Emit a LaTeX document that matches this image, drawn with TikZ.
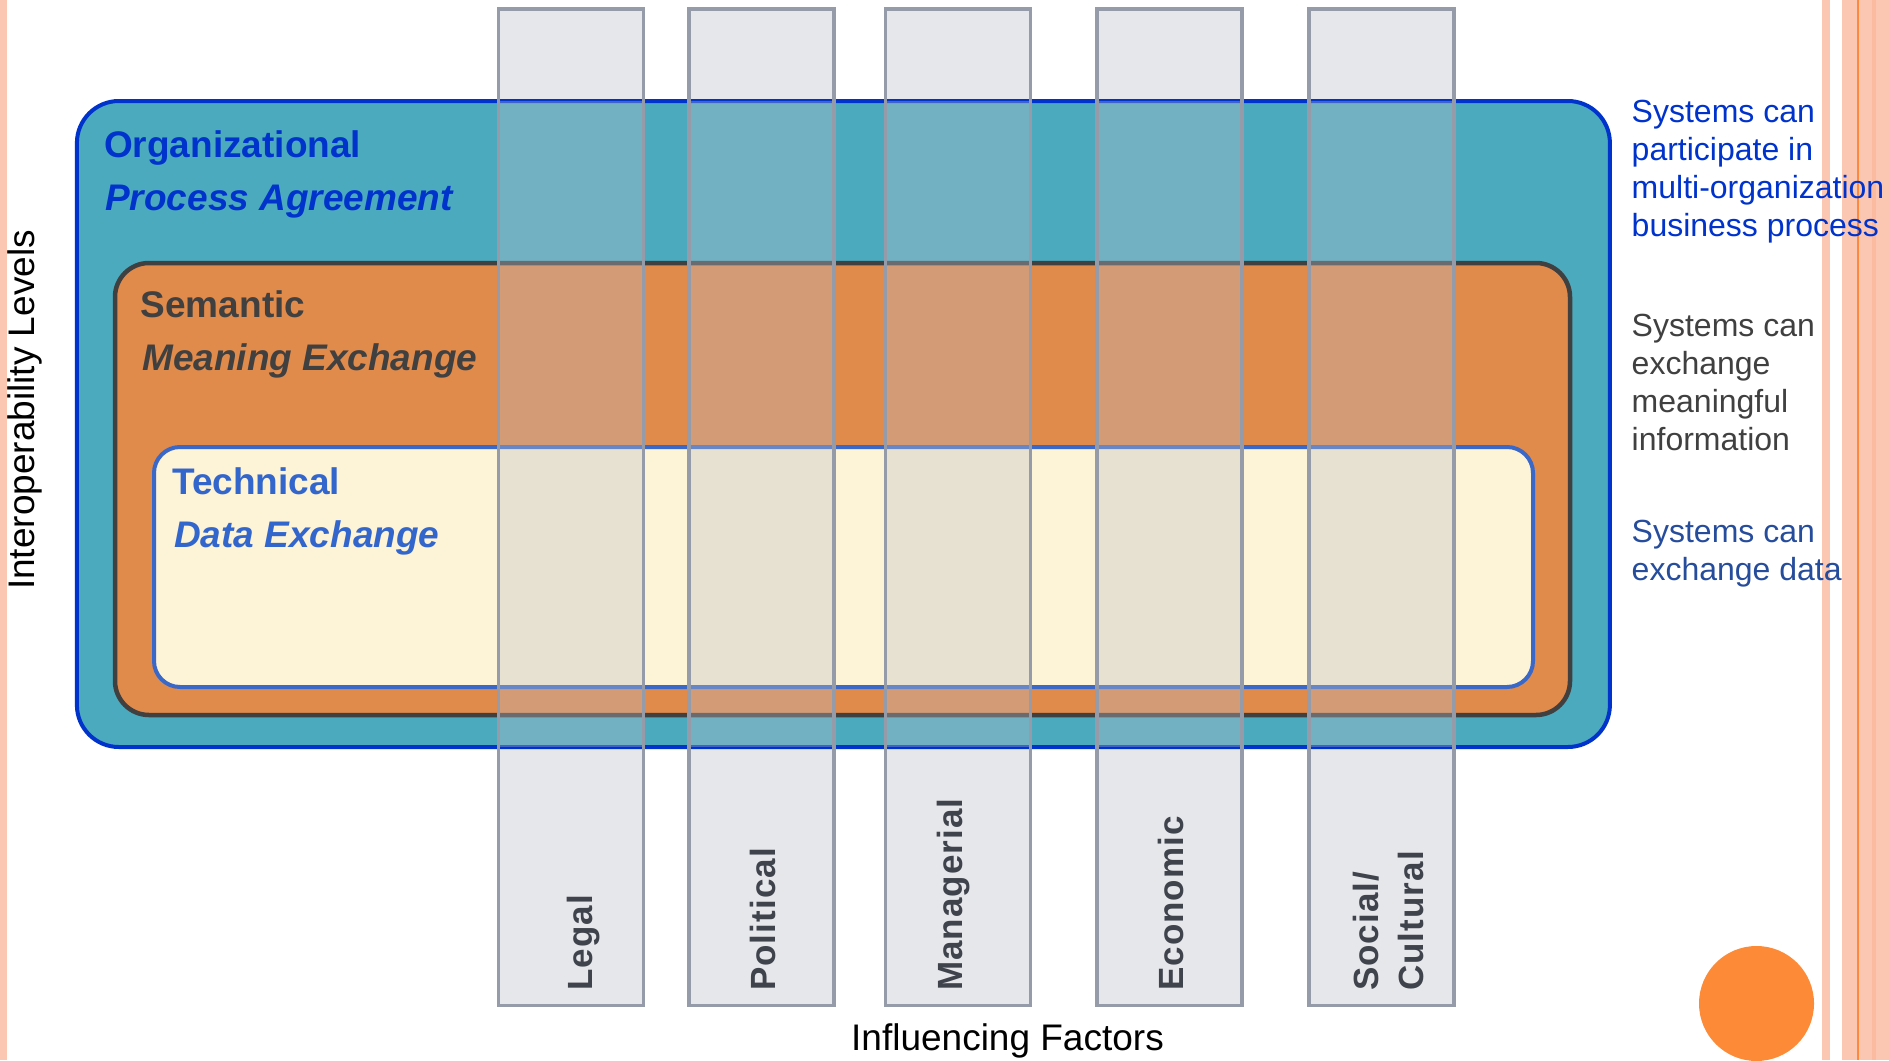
\documentclass[tikz,border=0pt]{standalone}
\usepackage{fontspec}
\setmainfont{Liberation Sans}
\definecolor{salmon}{HTML}{FCC7B2}
\definecolor{salmondark}{HTML}{FBBBA0}
\definecolor{stripeline}{HTML}{FD8A3C}
\definecolor{orgfill}{HTML}{4BAABE}
\definecolor{orgline}{HTML}{0033CC}
\definecolor{semfill}{HTML}{E08A4B}
\definecolor{semline}{HTML}{404040}
\definecolor{techfill}{HTML}{FDF3D6}
\definecolor{techline}{HTML}{3A68C8}
\definecolor{techtext}{HTML}{3366CC}
\definecolor{barfill}{HTML}{E6E7EB}
\definecolor{barline}{HTML}{959BA8}
\definecolor{barveil}{HTML}{BCC0CA}
\definecolor{bartext}{HTML}{3F434C}
\definecolor{circ}{HTML}{FD8A37}
\definecolor{textgray}{HTML}{404040}
\definecolor{datablue}{HTML}{264C9C}
\begin{document}
\begin{tikzpicture}[x=1pt,y=-1pt,
  levelbox/.style={inner sep=0pt, outer sep=0pt},
  orgbox/.style={levelbox, draw=orgline, fill=orgfill, line width=4pt, rounded corners=42pt,
     minimum width=1533pt, minimum height=646pt},
  sembox/.style={levelbox, draw=semline, fill=semfill, line width=4.5pt, rounded corners=34pt,
     minimum width=1455pt, minimum height=452pt},
  techbox/.style={levelbox, draw=techline, fill=techfill, line width=4pt, rounded corners=26pt,
     minimum width=1379pt, minimum height=240pt},
  barbase/.style={fill=barfill, inner sep=0pt, outer sep=0pt, minimum width=145pt, minimum height=996.5pt},
  barveilstyle/.style={fill=barveil, fill opacity=0.34},
  barborder/.style={draw=barline, line width=3.5pt},
  title/.style={anchor=base west, inner sep=0pt, font=\fontsize{37}{44}\selectfont\bfseries},
  subtitle/.style={anchor=base west, inner sep=0pt, font=\fontsize{37}{44}\selectfont\bfseries\itshape},
  barlabel/.style={rotate=90, anchor=base west, inner sep=0pt, text=bartext, align=left,
     font=\fontsize{35}{45}\selectfont\bfseries\addfontfeature{LetterSpace=3}},
  note/.style={anchor=base west, inner sep=0pt, align=left, font=\fontsize{32}{38}\selectfont},
  axislabel/.style={inner sep=0pt, text=black, font=\fontsize{37}{44}\selectfont}
]
\useasboundingbox (0,0) rectangle (1889,1060);
% decorative stripes
\fill[salmon] (0,0) rectangle (7,1060);
\fill[salmon] (1822,0) rectangle (1830,1060);
\fill[salmon] (1842,0) rectangle (1889,1060);
\fill[salmondark] (1872,0) rectangle (1876,1060);
\fill[stripeline] (1857,0) rectangle (1859,1060);
\node[circle, fill=circ, minimum size=115pt, inner sep=0pt] (dot) at (1756.5,1003.5) {};

% bars base layer
\node[barbase] (legal) at (570.75,507) {};
\node[barbase] (political) at (761.25,507) {};
\node[barbase] (managerial) at (958,507) {};
\node[barbase] (economic) at (1169.5,507) {};
\node[barbase] (social) at (1381.5,507) {};

% levels
\node[orgbox] (org) at (843.4,424) {};
\node[sembox] (sem) at (842.5,489) {};
\node[techbox] (tech) at (843.5,567) {};

% translucent veil of bars over the levels
\foreach \b in {legal,political,managerial,economic,social}{
  \fill[barveilstyle] (\b.west |- org.north) rectangle (\b.east |- org.south);
  \draw[barborder] (\b.south west) rectangle (\b.north east);
}

% level titles
\node[title, text=orgline] (orgt) at (104,157) {Organizational};
\node[subtitle, text=orgline] (orgs) at (105,210) {Process Agreement};
\node[title, text=textgray] (semt) at (140.5,317) {Semantic};
\node[subtitle, text=textgray] (sems) at (142,370.5) {Meaning Exchange};
\node[title, text=techtext] (techt) at (172,494) {Technical};
\node[subtitle, text=techtext] (techs) at (174,547) {Data Exchange};

% factor labels
\node[barlabel] (legall) at (592,991) {Legal};
\node[barlabel] (politicall) at (775,991) {Political};
\node[barlabel] (manageriall) at (962,991) {Managerial};
\node[barlabel] (economicl) at (1183,991) {Economic};
\node[barlabel] (sociall) at (1423,991) {Social/\\Cultural};

% side notes (base anchor = baseline of last line)
\node[note, text=orgline] (n1) at (1631.5,236) {Systems can\\participate in\\multi-organization\\business process};
\node[note, text=textgray] (n2) at (1631.5,450.5) {Systems can\\exchange\\meaningful\\information};
\node[note, text=datablue] (n3) at (1631.5,580.5) {Systems can\\exchange data};

% axis labels
\node[axislabel, rotate=90, anchor=base] (ylab) at (34,410) {Interoperability Levels};
\node[axislabel, anchor=base] (xlab) at (1007.5,1050) {Influencing Factors};
\end{tikzpicture}
\end{document}
